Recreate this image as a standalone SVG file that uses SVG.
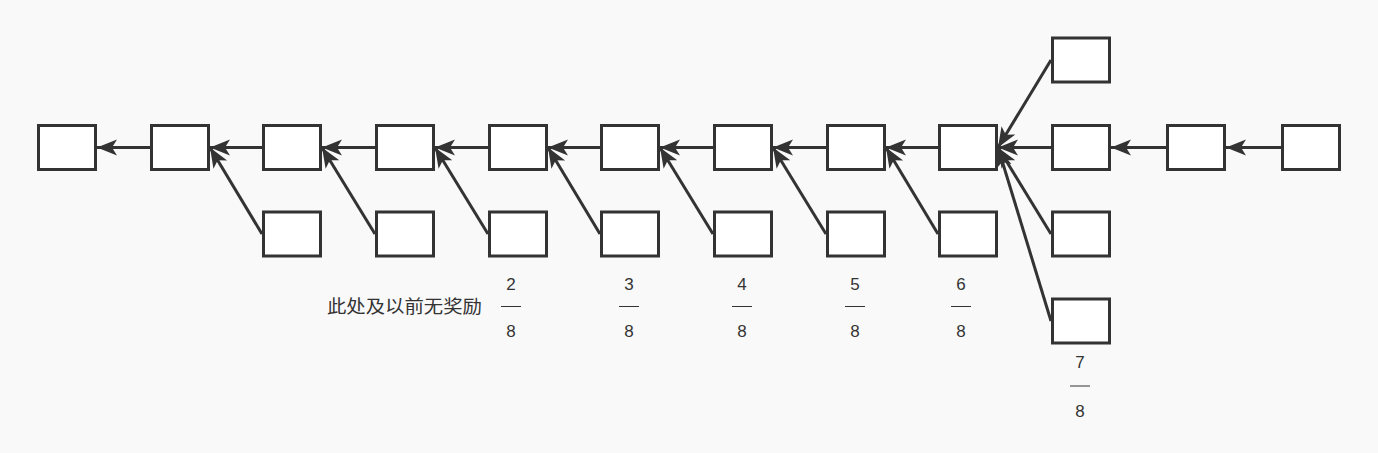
<svg xmlns="http://www.w3.org/2000/svg" width="1378" height="453" viewBox="0 0 1378 453">
<style>
.b{fill:#fff;stroke:#333;stroke-width:3}
.c{fill:none;stroke:#333;stroke-width:3;marker-end:url(#ah)}
.t{font-family:"Liberation Sans","Noto Sans CJK SC",sans-serif;fill:#333;font-size:17px;text-anchor:middle}
.z{font-family:"Noto Sans CJK SC","Liberation Sans",sans-serif;fill:#333;font-size:18px}
.f{stroke:#333;stroke-width:1}
</style>
<defs>
<marker id="ah" markerUnits="userSpaceOnUse" markerWidth="22" markerHeight="18" refX="20" refY="8" orient="auto" viewBox="0 0 22 18">
<path d="M20,8 L0,0 L5,8 L0,16 Z" fill="#333"/>
</marker>
</defs>
<rect width="1378" height="453" fill="#f9f9f9"/>
<g id="connectors">
<path class="c" d="M150,147.5 H97"/>
<path class="c" d="M262,147.5 H210"/>
<path class="c" d="M375,147.5 H322"/>
<path class="c" d="M488,147.5 H435"/>
<path class="c" d="M600,147.5 H548"/>
<path class="c" d="M713,147.5 H660"/>
<path class="c" d="M826,147.5 H773"/>
<path class="c" d="M938,147.5 H886"/>
<path class="c" d="M1051,147.5 H998"/>
<path class="c" d="M1166,147.5 H1111"/>
<path class="c" d="M1281,147.5 H1226"/>
<path class="c" d="M262,234 L210,147.5"/>
<path class="c" d="M375,234 L322,147.5"/>
<path class="c" d="M488,234 L435,147.5"/>
<path class="c" d="M600,234 L548,147.5"/>
<path class="c" d="M713,234 L660,147.5"/>
<path class="c" d="M826,234 L773,147.5"/>
<path class="c" d="M938,234 L886,147.5"/>
<path class="c" d="M1051,60 L998,147.5"/>
<path class="c" d="M1051,234 L998,147.5"/>
<path class="c" d="M1051,321 L998,147.5"/>
</g>
<g id="n1"><rect class="b" x="38.5" y="125.5" width="57" height="44"/></g>
<g id="n2"><rect class="b" x="151.5" y="125.5" width="57" height="44"/></g>
<g id="n3"><rect class="b" x="263.5" y="125.5" width="57" height="44"/></g>
<g id="n4"><rect class="b" x="376.5" y="125.5" width="57" height="44"/></g>
<g id="n5"><rect class="b" x="489.5" y="125.5" width="57" height="44"/></g>
<g id="n6"><rect class="b" x="601.5" y="125.5" width="57" height="44"/></g>
<g id="n7"><rect class="b" x="714.5" y="125.5" width="57" height="44"/></g>
<g id="n8"><rect class="b" x="827.5" y="125.5" width="57" height="44"/></g>
<g id="n9"><rect class="b" x="939.5" y="125.5" width="57" height="44"/></g>
<g id="n10"><rect class="b" x="1052.5" y="125.5" width="57" height="44"/></g>
<g id="n11"><rect class="b" x="1167.5" y="125.5" width="57" height="44"/></g>
<g id="n12"><rect class="b" x="1282.5" y="125.5" width="57" height="44"/></g>
<g id="s3"><rect class="b" x="263.5" y="212" width="57" height="44"/></g>
<g id="s4"><rect class="b" x="376.5" y="212" width="57" height="44"/></g>
<g id="s5"><rect class="b" x="489.5" y="212" width="57" height="44"/></g>
<g id="s6"><rect class="b" x="601.5" y="212" width="57" height="44"/></g>
<g id="s7"><rect class="b" x="714.5" y="212" width="57" height="44"/></g>
<g id="s8"><rect class="b" x="827.5" y="212" width="57" height="44"/></g>
<g id="s9"><rect class="b" x="939.5" y="212" width="57" height="44"/></g>
<g id="s10"><rect class="b" x="1052.5" y="212" width="57" height="44"/></g>
<g id="top10"><rect class="b" x="1052.5" y="38" width="57" height="44"/></g>
<g id="bot10"><rect class="b" x="1052.5" y="299" width="57" height="44"/></g>
<g id="labels">
<text class="z" x="327" y="313" textLength="155" lengthAdjust="spacingAndGlyphs">此处及以前无奖励</text>
<g id="f2"><text class="t" x="511" y="290">2</text><line class="f" x1="501" y1="306.5" x2="521" y2="306.5"/><text class="t" x="511" y="337">8</text></g>
<g id="f3"><text class="t" x="629" y="290">3</text><line class="f" x1="619" y1="306.5" x2="639" y2="306.5"/><text class="t" x="629" y="337">8</text></g>
<g id="f4"><text class="t" x="742" y="290">4</text><line class="f" x1="732" y1="306.5" x2="752" y2="306.5"/><text class="t" x="742" y="337">8</text></g>
<g id="f5"><text class="t" x="855" y="290">5</text><line class="f" x1="845" y1="306.5" x2="865" y2="306.5"/><text class="t" x="855" y="337">8</text></g>
<g id="f6"><text class="t" x="961" y="290">6</text><line class="f" x1="951" y1="306.5" x2="971" y2="306.5"/><text class="t" x="961" y="337">8</text></g>
<g id="f7"><text class="t" x="1080" y="368">7</text><line class="f" x1="1070" y1="386" x2="1090" y2="386"/><text class="t" x="1080" y="417">8</text></g>
</g>
</svg>
